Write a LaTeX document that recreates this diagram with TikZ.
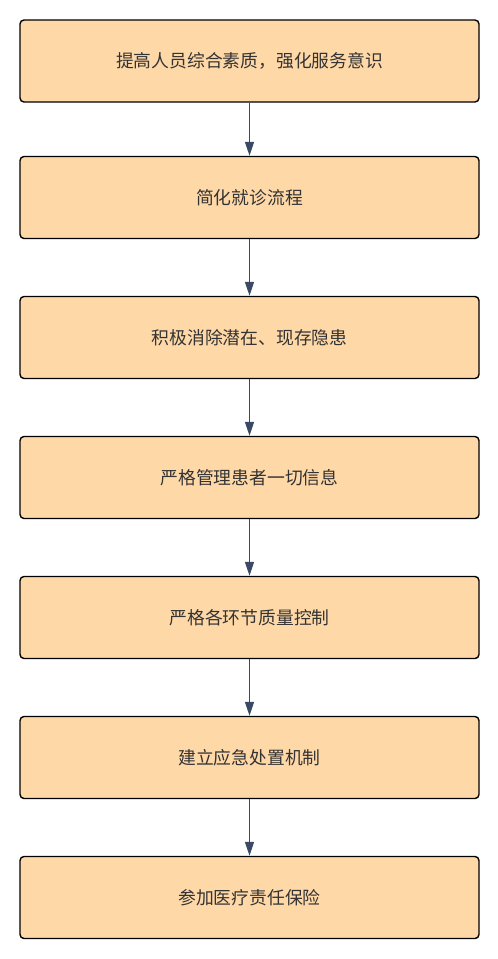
\documentclass[tikz,border=0pt]{standalone}
\usepackage{fontspec}
\setmainfont{Noto Sans CJK SC}
\usetikzlibrary{arrows.meta}
\definecolor{boxfill}{HTML}{FFD8A8}
\definecolor{arrowc}{HTML}{3A4A66}
\definecolor{txt}{HTML}{333333}
\tikzset{
  stepbox/.style={draw=black, line width=1.4pt, fill=boxfill, rounded corners=4pt,
    minimum width=459pt, minimum height=82pt, inner sep=0pt,
    text=txt, font=\fontsize{17.8pt}{21pt}\selectfont},
  flow/.style={draw=arrowc, line width=1.4pt, -{Triangle[length=14pt,width=9pt]}}
}
\begin{document}
\begin{tikzpicture}[x=1pt,y=-1pt]
\useasboundingbox (0,0) rectangle (498,959);
\node[stepbox] (b1) at (249.5,61) {提高人员综合素质，强化服务意识};
\node[stepbox] (b2) at (249.5,197.5) {简化就诊流程};
\node[stepbox] (b3) at (249.5,337.5) {积极消除潜在、现存隐患};
\node[stepbox] (b4) at (249.5,477.5) {严格管理患者一切信息};
\node[stepbox] (b5) at (249.5,617.5) {严格各环节质量控制};
\node[stepbox] (b6) at (249.5,757.5) {建立应急处置机制};
\node[stepbox] (b7) at (249.5,897.5) {参加医疗责任保险};
\foreach \a/\b in {b1/b2,b2/b3,b3/b4,b4/b5,b5/b6,b6/b7}
  \draw[flow] (\a.south) -- (\b.north);
\end{tikzpicture}
\end{document}
